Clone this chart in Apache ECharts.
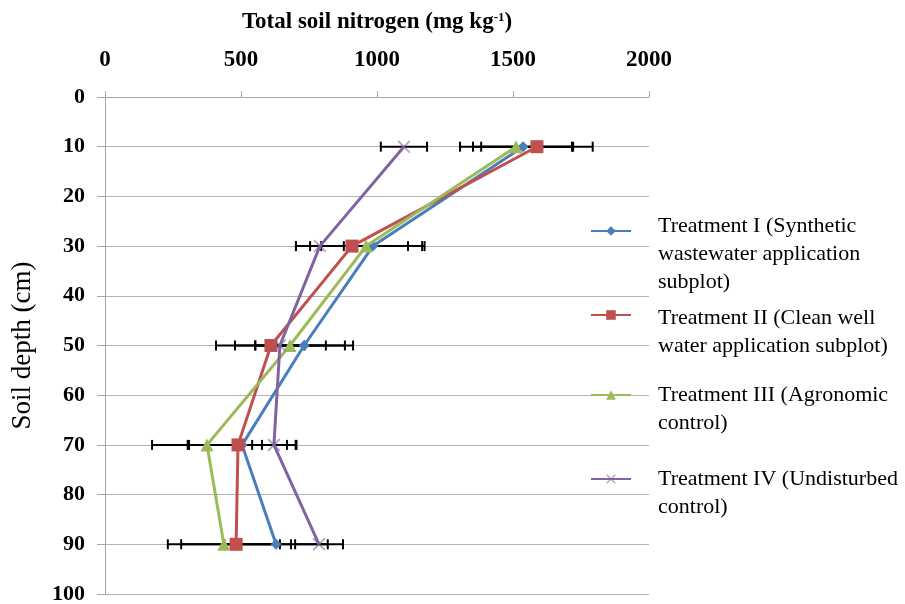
<!DOCTYPE html>
<html><head><meta charset="utf-8">
<script src="https://cdn.jsdelivr.net/npm/echarts@6/dist/echarts.min.js"></script>
<style>html,body{margin:0;padding:0;background:#fff}#c{width:905px;height:604px}</style>
</head><body><div id="c"></div>
<script>
const depths = [10, 30, 50, 70, 90];
const seriesNames = [
  'Treatment I (Synthetic wastewater application subplot)',
  'Treatment II (Clean well water application subplot)',
  'Treatment III (Agronomic control)',
  'Treatment IV (Undisturbed control)'
];
const legendLines = [
  ['Treatment I (Synthetic', 'wastewater application', 'subplot)'],
  ['Treatment II (Clean well', 'water application subplot)'],
  ['Treatment III (Agronomic', 'control)'],
  ['Treatment IV (Undisturbed', 'control)']
];
const t1 = [1537, 985, 732, 504, 629];
const t2 = [1588, 908, 610, 489, 482];
const t3 = [1511, 960, 680, 375, 437];
const t4 = [1099, 790, 643, 621, 787];
const e1 = [184, 190, 180, 200, 190];
const e2 = [205, 206, 202, 180, 202];
const e3 = [206, 206, 202, 202, 206];
const e4 = [85, 88, 90, 80, 88];
const xTicks = [0, 500, 1000, 1500, 2000];
const yTicks = [0, 10, 20, 30, 40, 50, 60, 70, 80, 90, 100];

const colors = ['#4A7EBB', '#C0504D', '#9BBB59', '#8064A2'];
const vals = [t1, t2, t3, t4];
const errs = [e1, e2, e3, e4];
const symbols = ['diamond', 'rect', 'triangle',
  'path://M0,1 L1,0 L5,4 L9,0 L10,1 L6,5 L10,9 L9,10 L5,6 L1,10 L0,9 L4,5 Z'];
const symSizes = [11, 13, 13, 13];
const FONT = '"Liberation Serif","Times New Roman",serif';

const chart = echarts.init(document.getElementById('c'));
const series = [];
// error bars
vals.forEach((v, k) => {
  series.push({
    type: 'custom',
    name: seriesNames[k] + ' err',
    z: 2,
    silent: true,
    data: depths.map((d, i) => [v[i] - errs[k][i], v[i] + errs[k][i], d]),
    encode: { x: [0, 1], y: 2 },
    renderItem: function (params, api) {
      const a = api.coord([api.value(0), api.value(2)]);
      const b = api.coord([api.value(1), api.value(2)]);
      const h = 5;
      const st = { stroke: '#000', lineWidth: 2 };
      return {
        type: 'group',
        children: [
          { type: 'line', shape: { x1: a[0], y1: a[1], x2: b[0], y2: b[1] }, style: st },
          { type: 'line', shape: { x1: a[0], y1: a[1] - h, x2: a[0], y2: a[1] + h }, style: st },
          { type: 'line', shape: { x1: b[0], y1: b[1] - h, x2: b[0], y2: b[1] + h }, style: st }
        ]
      };
    }
  });
});
vals.forEach((v, k) => {
  series.push({
    type: 'line',
    name: seriesNames[k],
    z: 3 + k,
    data: depths.map((d, i) => [v[i], d]),
    symbol: symbols[k],
    symbolSize: symSizes[k],
    showAllSymbol: true,
    lineStyle: { color: colors[k], width: 3 },
    itemStyle: { color: colors[k], opacity: k === 3 ? 0.6 : 1 },
    emphasis: { disabled: true },
    animation: false
  });
});

const legendTops = [184, 282, 362, 446];
const legendSpacer = [46, 34, 28, 28];
const legends = seriesNames.map((n, k) => ({
  left: 590,
  top: legendTops[k],
  padding: 0,
  orient: 'vertical',
  itemWidth: 40,
  itemHeight: 12,
  data: [n],
  formatter: () => '{e| }\n' + legendLines[k].map(s => '{t|' + s + '}').join('\n'),
  textStyle: {
    padding: [0, 0, 0, 22],
    fontFamily: FONT, fontSize: 22, color: '#000',
    rich: {
      e: { fontFamily: FONT, fontSize: 10, lineHeight: legendSpacer[k] },
      t: { fontFamily: FONT, fontSize: 22, lineHeight: 28, color: '#000' }
    }
  }
}));

chart.setOption({
  animation: false,
  backgroundColor: '#fff',
  grid: { left: 105, right: 256, top: 97, bottom: 10, containLabel: false, outerBoundsMode: 'none' },
  legend: legends,
  xAxis: {
    type: 'value', position: 'top', min: 0, max: 2000, interval: 500,
    name: '{a|Total soil nitrogen (mg kg}{s|-1}{a|)}',
    nameLocation: 'middle', nameGap: 63,
    nameTextStyle: {
      rich: {
        a: { fontFamily: FONT, fontSize: 23, fontWeight: 'bold', color: '#000' },
        s: { fontFamily: FONT, fontSize: 13, fontWeight: 'bold', color: '#000', verticalAlign: 'top', padding: [0, 0, 9, 0] }
      }
    },
    axisLine: { show: true, lineStyle: { color: '#a6a6a6', width: 1 } },
    axisTick: { show: true, length: 6, lineStyle: { color: '#a6a6a6' } },
    splitLine: { show: false },
    axisLabel: {
      margin: 25, fontFamily: FONT, fontSize: 23, fontWeight: 'bold', color: '#000',
      formatter: v => xTicks.includes(v) ? String(v) : ''
    }
  },
  yAxis: {
    type: 'value', inverse: true, min: 0, max: 100, interval: 10,
    name: 'Soil depth (cm)', nameLocation: 'middle', nameGap: 69, nameRotate: 90,
    nameTextStyle: { fontFamily: FONT, fontSize: 27, color: '#000' },
    axisLine: { show: true, lineStyle: { color: '#a6a6a6', width: 1 } },
    axisTick: { show: true, inside: false, length: 8, lineStyle: { color: '#a6a6a6' } },
    splitLine: { show: true, lineStyle: { color: '#b3b3b3', width: 1 } },
    axisLabel: {
      margin: 20, fontFamily: FONT, fontSize: 22, fontWeight: 'bold', color: '#000',
      formatter: v => yTicks.includes(v) ? String(v) : ''
    }
  },
  series: series
});
</script>
</body></html>
